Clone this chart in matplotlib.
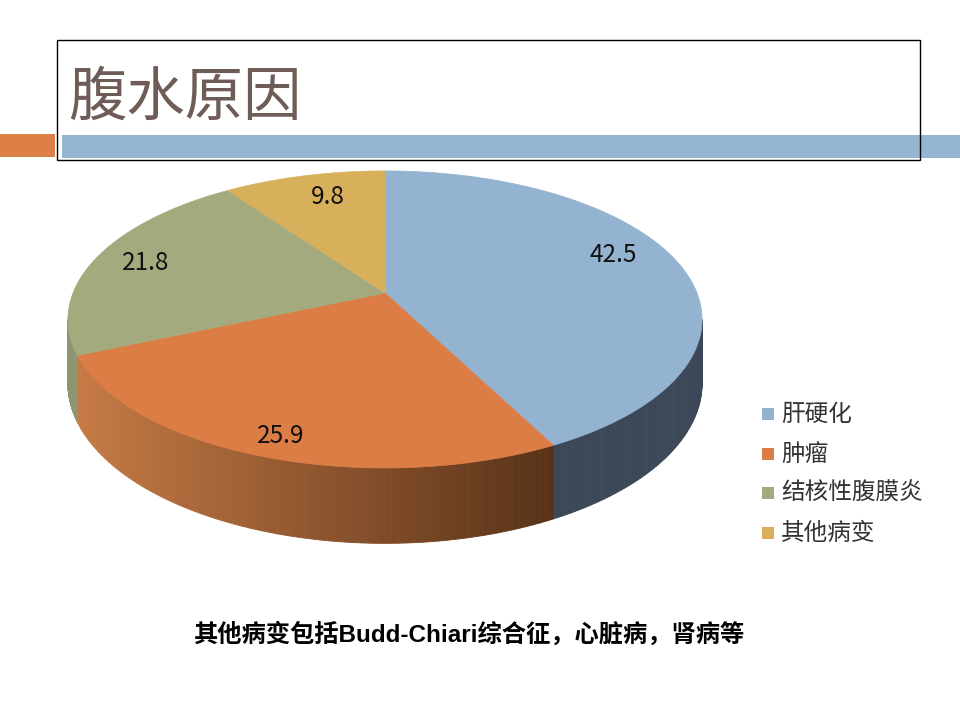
import numpy as np
import matplotlib.pyplot as plt
from matplotlib.patches import Polygon, Rectangle
from matplotlib.colors import to_rgb

# Data
labels = ['肝硬化', '肿瘤', '结核性腹膜炎', '其他病变']
values = [42.5, 25.9, 21.8, 9.8]
title = '腹水原因'
note = '其他病变包括Budd-Chiari综合征，心脏病，肾病等'

# Styles / layout
top_colors = ['#93b3d1', '#dc7d45', '#a3ab7e', '#d8b05c']
side_light = ['#3c4857', '#c67a45', '#8c9670', '#b08c45']
side_dark = ['#3c4857', '#583218', '#7a8660', '#9a7a3c']
label_xy = [(613, 255), (281, 436), (146, 263), (328, 197)]
cjk = ['Noto Sans CJK SC', 'DejaVu Sans']

fig = plt.figure(figsize=(9.6, 7.2), dpi=100)
ax = fig.add_axes([0, 0, 1, 1])
ax.set_xlim(0, 960)
ax.set_ylim(720, 0)
ax.axis('off')

# slide decoration
ax.add_patch(Rectangle((0, 134), 55, 23, color='#dd8047', lw=0, zorder=1))
ax.add_patch(Rectangle((62, 135), 898, 23, color='#94b6d2', lw=0, zorder=1))
ax.add_patch(Rectangle((57, 40), 863, 120, fill=False, ec='black', lw=1, zorder=2))
ax.text(68, 98, title, fontsize=42, color='#6e5c57', style='italic',
        family=cjk, ha='left', va='center', zorder=3)

# perspective pie geometry
cx, cy = 385, 293
A, B, a = 312, 143.8, 0.178
depth = 62


def proj(theta):
    t = np.radians(theta)
    u, v = np.sin(t), -np.cos(t)
    w = 1 - a * v
    return cx + A * u / w, cy + B * v / w, w


bounds = np.concatenate([[0], np.cumsum(values) / np.sum(values) * 360])
vis_lo = np.degrees(np.arccos(-a))
vis_hi = 360 - vis_lo

# sides
for i in range(len(values)):
    lo, hi = max(bounds[i], vis_lo), min(bounds[i + 1], vis_hi)
    if hi <= lo:
        continue
    ts = np.linspace(lo, hi, 80)
    x, y, w = proj(ts)
    yb = y + depth / w
    c1, c2 = np.array(to_rgb(side_dark[i])), np.array(to_rgb(side_light[i]))
    for j in range(len(ts) - 1):
        f = np.clip((553 - (x[j] + x[j + 1]) / 2) / (553 - 78), 0, 1)
        col = c1 + (c2 - c1) * f
        quad = [(x[j], y[j]), (x[j + 1], y[j + 1]), (x[j + 1], yb[j + 1]), (x[j], yb[j])]
        ax.add_patch(Polygon(quad, closed=True, fc=col, ec=col, lw=0.6, zorder=4))

# top faces
for i in range(len(values)):
    ts = np.linspace(bounds[i], bounds[i + 1], 200)
    x, y, _ = proj(ts)
    pts = [(cx, cy)] + list(zip(x, y))
    ax.add_patch(Polygon(pts, closed=True, fc=top_colors[i], ec=top_colors[i],
                         lw=0.5, zorder=5))

for (lx, ly), v in zip(label_xy, values):
    ax.text(lx, ly, f'{v}', fontsize=17.5, color='#111111', family=cjk,
            ha='center', va='center', zorder=6)

# legend
rows = [414, 454, 493, 533]
for lab, col, ry in zip(labels, top_colors, rows):
    ax.add_patch(Rectangle((762, ry - 6), 12, 12, color=col, lw=0, zorder=6))
    ax.text(781, ry, lab, fontsize=17, color='#333333', family=cjk,
            ha='left', va='center', zorder=6)

ax.text(469, 635, note, fontsize=17.5, fontweight='bold', color='black',
        family=['Liberation Sans', 'Noto Sans CJK SC', 'DejaVu Sans'],
        ha='center', va='center', zorder=6)

fig.savefig('out.png', dpi=100)
